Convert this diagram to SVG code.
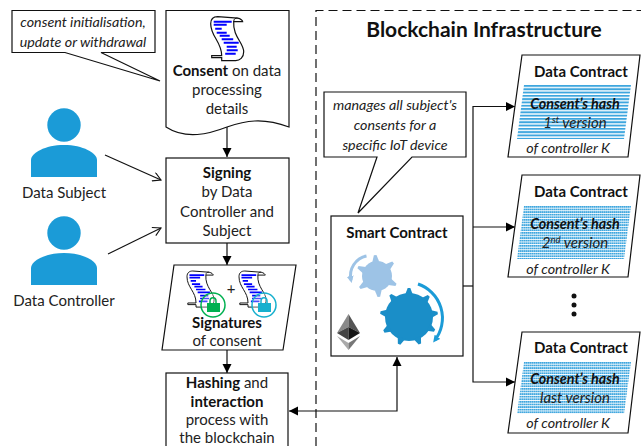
<svg xmlns="http://www.w3.org/2000/svg" xmlns:xlink="http://www.w3.org/1999/xlink" width="641" height="446" viewBox="0 0 641 446">
<style>
text{font-family:Lato,"Open Sans","Liberation Sans",sans-serif;fill:#222;font-size:15px;text-anchor:middle}
.b{font-weight:700;fill:#111}
.i{font-style:italic;font-size:14.300px}
.v{font-size:15px}
.shape{fill:#fff;stroke:#111;stroke-width:1.2}
.conn{fill:none;stroke:#111;stroke-width:1.2}
.person{fill:#1b9bd7}
.lg{fill:#9dc3e6}
.dg{fill:#1a8ec8}
</style>
<defs>
<marker id="ah" markerUnits="userSpaceOnUse" markerWidth="10" markerHeight="10" refX="9" refY="5" orient="auto-start-reverse"><path d="M0,0.5 L9,5 L0,9.5 Z" fill="#000"/></marker>
<marker id="oa" markerUnits="userSpaceOnUse" markerWidth="10" markerHeight="10" refX="9" refY="5" orient="auto"><path d="M1,0.5 L9,5 L1,9.5" fill="none" stroke="#111" stroke-width="1.1"/></marker>
<marker id="al" markerUnits="userSpaceOnUse" markerWidth="8" markerHeight="8" refX="4" refY="4" orient="auto"><path d="M0,0.5 L7,4 L0,7.5 Z" fill="#9dc3e6"/></marker>
<marker id="ad" markerUnits="userSpaceOnUse" markerWidth="8" markerHeight="8" refX="4" refY="4" orient="auto"><path d="M0,0.5 L7,4 L0,7.5 Z" fill="#1b9bd7"/></marker>
<pattern id="st1" width="4" height="3.300" patternUnits="userSpaceOnUse" y="85"><rect width="4" height="1.900" fill="#3ea6de"/></pattern>
<pattern id="st2" width="2" height="2.600" patternUnits="userSpaceOnUse" y="206"><rect width="1.700" height="1.700" fill="#3ea6de"/></pattern>
<g id="scroll">
<path d="M0,7 C0,2 3,0 7,0 L27,1.500 C30,2 32,4 32,5 H23 C22,20 33,26 33,35 C33,41 29,44 25,44 H11 V41 H1 L1,39 H11 C11,25 0,20 0,7 Z" fill="#fff" stroke="#111" stroke-width="1.200"/>
<path d="M23,5 C23,2 25,1 27,1.500" fill="none" stroke="#111" stroke-width="1"/>
<path d="M3,5 H21 M3,8 H16 M4.500,12 H11 M6,16 H16 M9,19 H19 M11,22.500 H22.500 M13,26 H28 M16,30 H26 M16,33.500 H27 M14.500,37 H25" stroke="#00f" stroke-width="2" fill="none"/>
</g>
<polygon id="tl" points="-3.500,-14 -1.300,-21 1.300,-21 3.500,-14"/>
<polygon id="td" points="-4,-22 -1.300,-29 1.300,-29 4,-22"/>
</defs>

<g id="connectors">
<path class="conn" d="M227,127 V157" marker-end="url(#ah)"/>
<path class="conn" d="M227,243 V265" marker-end="url(#ah)"/>
<path class="conn" d="M227,350 V373" marker-end="url(#ah)"/>
<path class="conn" d="M105,155 L161,180" marker-end="url(#oa)"/>
<path class="conn" d="M108,254 L161,228" marker-end="url(#oa)"/>
<path class="conn" d="M289,411 H397 V357" marker-start="url(#ah)" marker-end="url(#ah)"/>
<path class="conn" d="M463,286 H473"/>
<path class="conn" d="M473,227 V106.500 H515" marker-end="url(#ah)"/>
<path class="conn" d="M473,227 H515" marker-end="url(#ah)"/>
<path class="conn" d="M473,227 V382 H515" marker-end="url(#ah)"/>
</g>

<g id="blockchain-border"><path d="M316,446 V10.500 H641" fill="none" stroke="#111" stroke-width="1.2" stroke-dasharray="9 5"/>
<text x="484" y="37" class="b" style="font-size:21px">Blockchain Infrastructure</text></g>

<g id="callout-consent">
<path class="shape" d="M12,10.500 H155 V52.500 H101 L160,81 L65,52.500 H12 Z"/>
<text x="83" y="27" class="i">consent initialisation,</text>
<text x="83" y="47" class="i">update or withdrawal</text>
</g>

<g id="consent">
<path class="shape" d="M166,10.500 H289 V127 C262,117 245,121 227,127 C209,134 186,140 166,127 Z"/>
<use href="#scroll" x="210.700" y="16.700"/>
<text x="227" y="76"><tspan class="b">Consent</tspan> on data</text>
<text x="227" y="95">processing</text>
<text x="227" y="114">details</text>
</g>

<g id="data-subject">
<circle class="person" cx="64" cy="125" r="16.700"/>
<path class="person" d="M31,177 V160 C31,153 45,145 64,145 C83,145 97,153 97,160 V177 Z"/>
<text x="64" y="198">Data Subject</text>
</g>

<g id="data-controller">
<circle class="person" cx="64" cy="233" r="16.700"/>
<path class="person" d="M31,285 V268 C31,261 45,253 64,253 C83,253 97,261 97,268 V285 Z"/>
<text x="64" y="306">Data Controller</text>
</g>

<g id="signing">
<rect class="shape" x="166" y="158" width="123" height="85"/>
<text x="227" y="178" class="b">Signing</text>
<text x="227" y="197">by Data</text>
<text x="227" y="217">Controller and</text>
<text x="227" y="236">Subject</text>
</g>

<g id="signatures">
<polygon class="shape" points="174,265 296,265 283,350 162,350"/>
<use href="#scroll" transform="translate(187,271) scale(.82)"/>
<use href="#scroll" transform="translate(239,271) scale(.82)"/>
<circle cx="213" cy="305" r="12" fill="#fff" fill-opacity=".3" stroke="#00b050" stroke-width="1.500"/>
<path d="M210,303 V301 C210,296.500 216,296.500 216,301 V303" fill="none" stroke="#00b050" stroke-width="1.500"/>
<rect x="207" y="303" width="13" height="9" fill="#00b050"/>
<circle cx="264" cy="305" r="12" fill="#fff" fill-opacity=".3" stroke="#17b0ce" stroke-width="1.500"/>
<path d="M261,303 V301 C261,296.500 267,296.500 267,301 V303" fill="none" stroke="#17b0ce" stroke-width="1.500"/>
<rect x="258" y="303" width="13" height="9" fill="#17b0ce"/>
<text x="231" y="294">+</text>
<text x="227" y="328" class="b">Signatures</text>
<text x="227" y="346">of consent</text>
</g>

<g id="hashing">
<rect class="shape" x="166" y="373" width="122" height="80"/>
<text x="227" y="388"><tspan class="b">Hashing</tspan> and</text>
<text x="227" y="406.500" class="b">interaction</text>
<text x="227" y="424.500">process with</text>
<text x="227" y="442.500">the blockchain</text>
</g>

<g id="callout-manages">
<path class="shape" d="M324,92 H466 V157 H412 L358,213 L377,157 H324 Z"/>
<text x="395" y="110" class="i">manages all subject's</text>
<text x="395" y="130" class="i">consents for a</text>
<text x="395" y="150" class="i">specific IoT device</text>
</g>

<g id="smart-contract">
<rect class="shape" x="331" y="216" width="132" height="140"/>
<text x="397" y="238" class="b">Smart Contract</text>
<path d="M366.500,256 A20,20 0 0 0 351,280" fill="none" stroke="#9dc3e6" stroke-width="3" marker-end="url(#al)"/>
<g class="lg"><circle cx="377" cy="276" r="15"/>
<use href="#tl" transform="translate(377,276) rotate(-5)"/><use href="#tl" transform="translate(377,276) rotate(50)"/><use href="#tl" transform="translate(377,276) rotate(115)"/><use href="#tl" transform="translate(377,276) rotate(175)"/><use href="#tl" transform="translate(377,276) rotate(235)"/><use href="#tl" transform="translate(377,276) rotate(295)"/></g>
<path d="M418,284 A36,36 0 0 1 435,340" fill="none" stroke="#1b9bd7" stroke-width="3" marker-end="url(#ad)"/>
<g class="dg"><circle cx="409" cy="317" r="24"/>
<use href="#td" transform="translate(409,317)"/><use href="#td" transform="translate(409,317) rotate(43)"/><use href="#td" transform="translate(409,317) rotate(82)"/><use href="#td" transform="translate(409,317) rotate(118)"/><use href="#td" transform="translate(409,317) rotate(158)"/><use href="#td" transform="translate(409,317) rotate(200)"/><use href="#td" transform="translate(409,317) rotate(240)"/><use href="#td" transform="translate(409,317) rotate(279)"/><use href="#td" transform="translate(409,317) rotate(320)"/></g>
<polygon points="348.500,314 337,333 348.500,327" fill="#8a8a8a"/>
<polygon points="348.500,314 360,333 348.500,327" fill="#555"/>
<polygon points="337,333 348.500,327 348.500,340" fill="#444"/>
<polygon points="360,333 348.500,327 348.500,340" fill="#151515"/>
<polygon points="337,336 348.500,343 348.500,350" fill="#aaa"/>
<polygon points="360,336 348.500,343 348.500,350" fill="#777"/>
</g>

<g id="data-contract-1">
<polygon class="shape" points="522,55 640,55 628,157 508,157"/>
<polygon points="524,85 631,85 624,139 517,139" fill="url(#st1)"/>
<text x="581" y="77" class="b">Data Contract</text>
<text x="575" y="109" class="b i">Consent’s hash</text>
<text x="575" y="128" class="i v">1<tspan dy="-5" font-size="9.500">st</tspan><tspan dy="5"> version</tspan></text>
<text x="568" y="153" class="i">of controller K</text>
</g>

<g id="data-contract-2">
<polygon class="shape" points="522,175 640,175 628,277 508,277"/>
<polygon points="524,206 631,206 624,259 517,259" fill="url(#st2)"/>
<text x="581" y="197" class="b">Data Contract</text>
<text x="575" y="229" class="b i">Consent’s hash</text>
<text x="575" y="248" class="i v">2<tspan dy="-5" font-size="9.500">nd</tspan><tspan dy="5"> version</tspan></text>
<text x="568" y="274" class="i">of controller K</text>
</g>

<g id="ellipsis" fill="#111"><circle cx="574" cy="296" r="2.500"/><circle cx="574" cy="305" r="2.500"/><circle cx="574" cy="314" r="2.500"/></g>

<g id="data-contract-3">
<polygon class="shape" points="522,332 640,332 628,433 508,433"/>
<polygon points="524,362 631,362 624,414 517,414" fill="url(#st2)"/>
<text x="581" y="353" class="b">Data Contract</text>
<text x="575" y="384" class="b i">Consent’s hash</text>
<text x="575" y="403" class="i v">last version</text>
<text x="568" y="428" class="i">of controller K</text>
</g>
</svg>
